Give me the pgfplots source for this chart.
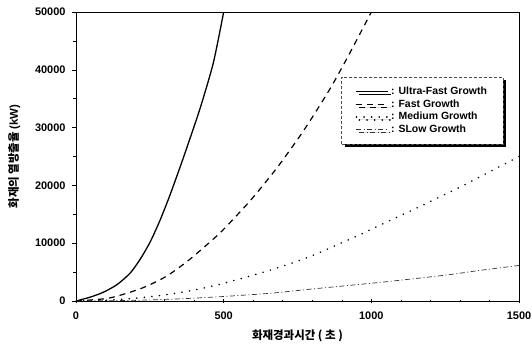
\documentclass[border=0pt]{standalone}
\usepackage{pgfplots}
\pgfplotsset{compat=1.18}
\usepackage{fontspec}
\setmainfont{Liberation Sans}
\newfontfamily\kr{Noto Sans CJK KR}
\usetikzlibrary{shadows}
\begin{document}
\begin{tikzpicture}
\begin{axis}[
  scale only axis,
  width=443bp, height=289bp,
  xmin=0, xmax=1500, ymin=0, ymax=50000,
  xtick={0,500,1000,1500},
  ytick={0,10000,20000,30000,40000,50000},
  minor x tick num=4,
  minor y tick num=1,
  tick pos=left,
  y tick style={black, line width=0.6pt},
  x tick style={black, line width=0.6pt},
  ytick align=outside,
  xtick align=center,
  major tick length=4bp, minor tick length=2.5bp,
  axis line style={line width=0.8pt},
  scaled y ticks=false,
  /pgf/number format/assume math mode=true,
  yticklabel={\pgfmathprintnumber[fixed,1000 sep={}]{\tick}},
  xticklabel={\pgfmathprintnumber[fixed,1000 sep={}]{\tick}},
  ticklabel style={font=\bfseries\fontsize{11}{12}\selectfont},
  yticklabel style={xshift=-3bp},
  xticklabel style={yshift=-5bp},
  xlabel={\kr\bfseries 화재경과시간 ( 초 )},
  ylabel={\kr\bfseries 화재의 열방출율 {\rmfamily (kW)}},
  label style={font=\fontsize{11.5}{12}\selectfont},
  xlabel style={yshift=-4bp},
  ylabel style={yshift=8bp},
  legend style={at={(0.599,0.775)}, anchor=north west,
    draw=black!70, densely dashed, line width=0.4pt, fill=white,
    font=\bfseries\fontsize{10.5}{11}\selectfont,
    drop shadow={shadow xshift=3bp, shadow yshift=-3bp, fill=black, opacity=1},
    nodes={inner ysep=1.8bp},
    inner xsep=14bp, inner ysep=8bp, row sep=0bp},
  legend cell align=left,
  legend image code/.code={\draw[#1] (0bp,0bp) -- (32bp,0bp);},
  clip=true,
]
\addplot[black, solid, line width=1.3pt, smooth, tension=0.4] coordinates {
(0,0) (50,700) (92,1500) (138,2800) (183,4800) (217,7200) (251,10200)
(284,13900) (318,18300) (363,24700) (420,33300) (465,41200) (500,50000)};
\addlegendentry{: Ultra-Fast Growth}
\addplot[black, line width=1.2pt, dash pattern=on 6bp off 5bp, smooth, tension=0.4] coordinates {
(0,0) (100,400) (150,1000) (217,2100) (262,3100) (307,4300) (352,5900)
(397,7700) (488,11800) (589,17300) (680,23000) (759,28600) (804,32100)
(860,36700) (905,40800) (951,45200) (1000,50000)};
\addlegendentry{: Fast Growth}
\addplot[black, line width=1.7pt, dash pattern=on 0.1bp off 7.5bp, line cap=round, smooth, tension=0.4] coordinates {
(0,0) (100,120) (200,470) (300,1050) (400,1900) (488,2900) (623,4800)
(728,6500) (807,8000) (883,9700) (962,11500) (1041,13400) (1150,16000)
(1300,19700) (1402,22400) (1500,25000)};
\addlegendentry{: Medium Growth}
\addplot[black!80, line width=0.7pt, dash pattern=on 5bp off 2.5bp on 1bp off 2.5bp, smooth, tension=0.4] coordinates {
(0,0) (200,120) (350,370) (488,744) (657,1330) (804,2100) (939,2770)
(1052,3340) (1255,4500) (1368,5300) (1500,6150)};
\addlegendentry{: SLow Growth}
\end{axis}
\draw[line width=0.8pt] (0,289bp) -- (443bp,289bp) -- (443bp,0);
\pgfresetboundingbox
\path[use as bounding box] (-76bp,-50bp) rectangle (456bp,301bp);
\end{tikzpicture}
\end{document}
